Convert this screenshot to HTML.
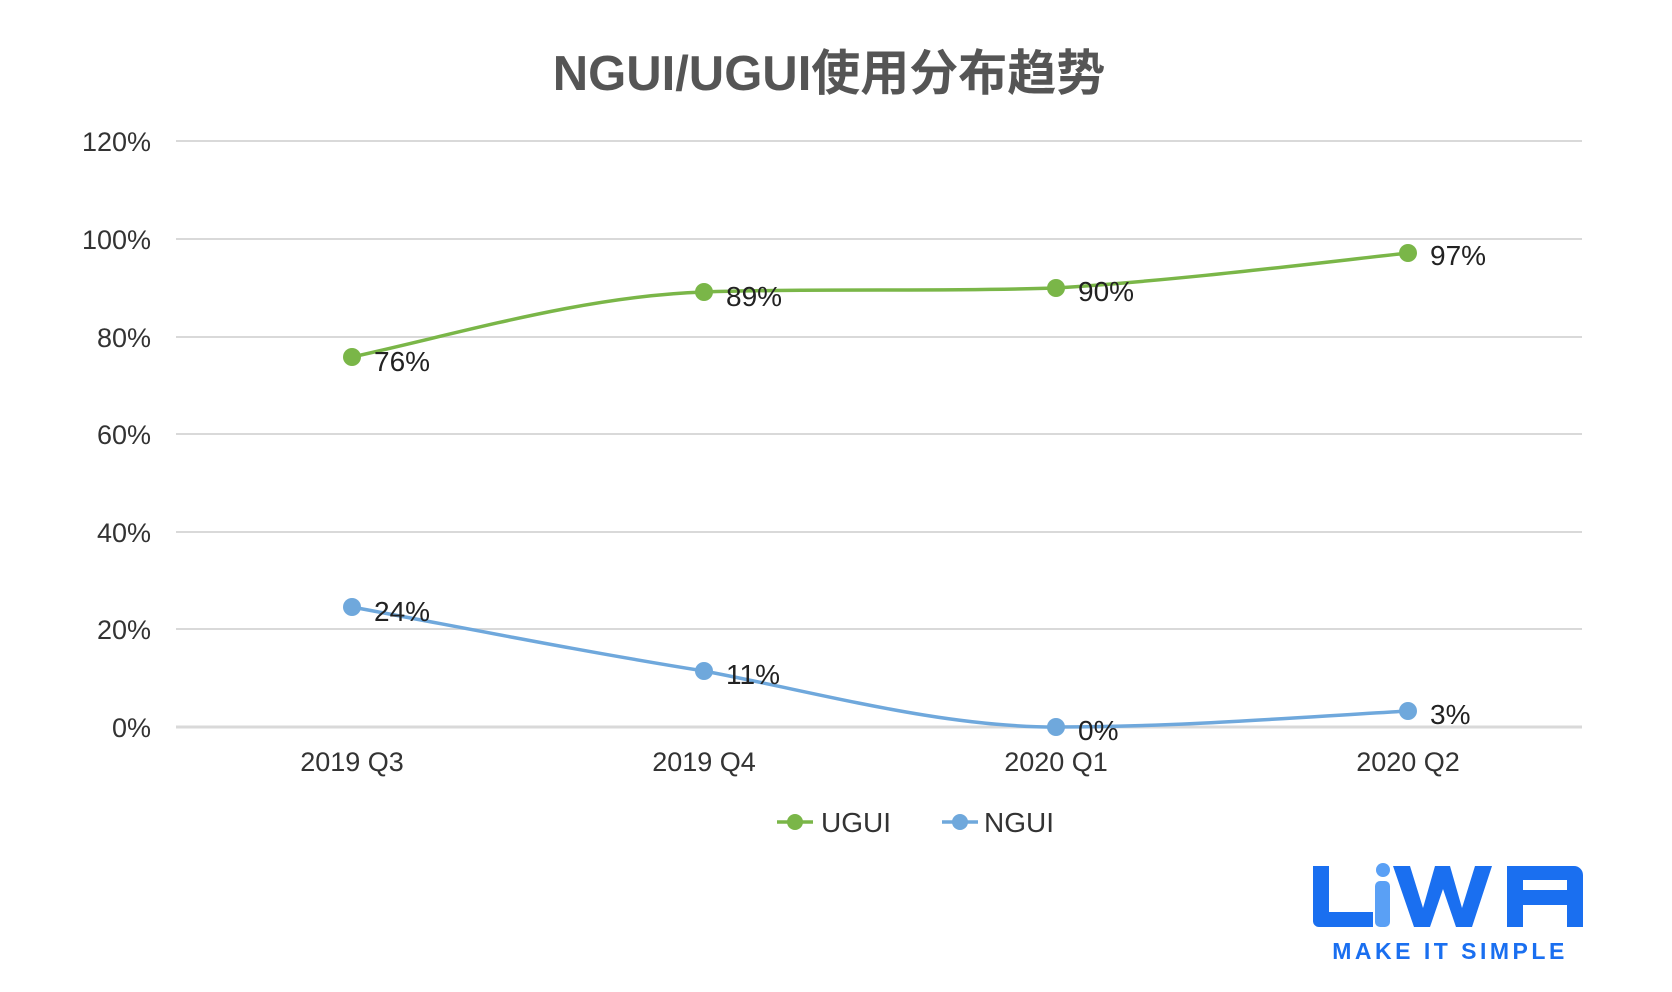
<!DOCTYPE html>
<html><head><meta charset="utf-8"><style>
html,body{margin:0;padding:0;background:#fff;}
svg{display:block;}
text{font-family:"Liberation Sans","Noto Sans CJK SC",sans-serif;}
</style></head><body>
<svg width="1672" height="992" viewBox="0 0 1672 992" xmlns="http://www.w3.org/2000/svg">
<text x="829" y="90" text-anchor="middle" font-size="49" font-weight="bold" fill="#555">NGUI/UGUI使用分布趋势</text>
<g stroke="#d9d9d9" stroke-width="2">
<line x1="176" y1="141" x2="1582" y2="141"/>
<line x1="176" y1="239" x2="1582" y2="239"/>
<line x1="176" y1="337" x2="1582" y2="337"/>
<line x1="176" y1="434" x2="1582" y2="434"/>
<line x1="176" y1="532" x2="1582" y2="532"/>
<line x1="176" y1="629" x2="1582" y2="629"/>
<line x1="176" y1="727" x2="1582" y2="727" stroke-width="3"/>
</g>
<g font-size="27" fill="#333" text-anchor="end">
<text x="151" y="151">120%</text>
<text x="151" y="249">100%</text>
<text x="151" y="347">80%</text>
<text x="151" y="444">60%</text>
<text x="151" y="542">40%</text>
<text x="151" y="639">20%</text>
<text x="151" y="737">0%</text>
</g>
<g font-size="27" fill="#333" text-anchor="middle">
<text x="352" y="771">2019 Q3</text>
<text x="704" y="771">2019 Q4</text>
<text x="1056" y="771">2020 Q1</text>
<text x="1408" y="771">2020 Q2</text>
</g>
<path d="M352,357 C465,332 585,296 704,292 C820,288 940,292 1056,288 C1180,280 1300,265 1408,253" fill="none" stroke="#7ab648" stroke-width="3.5"/>
<path d="M352,607 C465,628 585,652 704,671 C820,693 940,727 1056,727 C1180,727 1300,717 1408,711" fill="none" stroke="#6fa8dc" stroke-width="3.5"/>
<g fill="#7ab648">
<circle cx="352" cy="357" r="9"/><circle cx="704" cy="292" r="9"/><circle cx="1056" cy="288" r="9"/><circle cx="1408" cy="253" r="9"/>
</g>
<g fill="#6fa8dc">
<circle cx="352" cy="607" r="9"/><circle cx="704" cy="671" r="9"/><circle cx="1056" cy="727" r="9"/><circle cx="1408" cy="711" r="9"/>
</g>
<g font-size="28" fill="#222">
<text x="374" y="371">76%</text>
<text x="726" y="306">89%</text>
<text x="1078" y="301">90%</text>
<text x="1430" y="265">97%</text>
<text x="374" y="621">24%</text>
<text x="726" y="684">11%</text>
<text x="1078" y="740">0%</text>
<text x="1430" y="724">3%</text>
</g>
<line x1="777" y1="822" x2="813" y2="822" stroke="#7ab648" stroke-width="3.5"/>
<circle cx="795" cy="822" r="8" fill="#7ab648"/>
<text x="821" y="832" font-size="28" fill="#333">UGUI</text>
<line x1="942" y1="822" x2="978" y2="822" stroke="#6fa8dc" stroke-width="3.5"/>
<circle cx="960" cy="822" r="8" fill="#6fa8dc"/>
<text x="984" y="832" font-size="28" fill="#333">NGUI</text>
<g fill="#1a6ff0">
<path d="M1313,866 h16 v46 h44 v15 h-54 a6,6 0 0 1 -6,-6 z"/>
<rect x="1375" y="881" width="15" height="46" rx="5" fill="#5aa0f5"/>
<circle cx="1383" cy="870" r="7" fill="#5aa0f5"/>
<path d="M1393,866 h17 l13,42 l12,-42 h15 l12,42 l13,-42 h17 l-20,61 h-16 l-13,-38 l-13,38 h-16 z"/>
<path d="M1507,866 h67 a9,9 0 0 1 9,9 v52 h-16 v-22 h-44 v22 h-16 z M1523,880 v10 h44 v-10 z"/>
</g>
<text x="1450" y="959" text-anchor="middle" font-size="23" font-weight="bold" fill="#1a6ff0" letter-spacing="3.5">MAKE IT SIMPLE</text>
</svg>
</body></html>
